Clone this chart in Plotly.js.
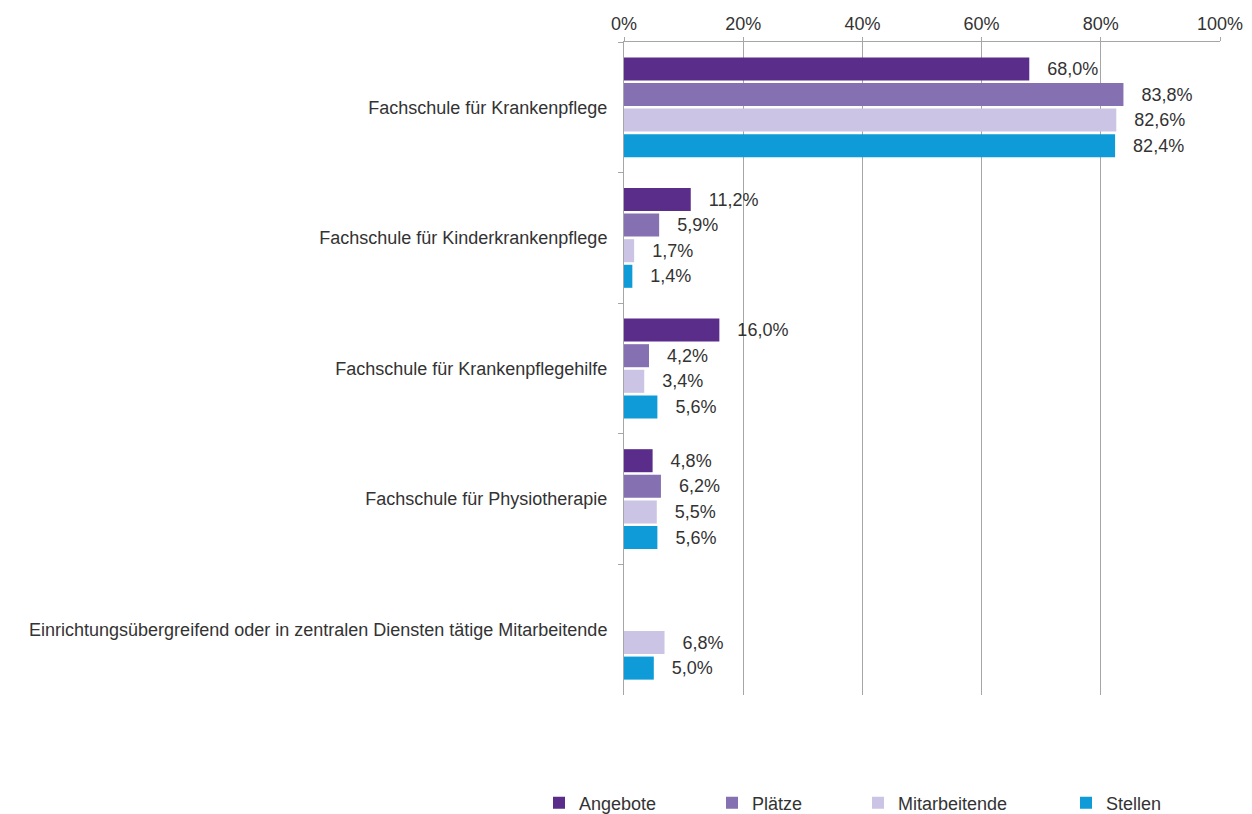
<!DOCTYPE html>
<html>
<head>
<meta charset="utf-8">
<script src="https://cdn.plot.ly/plotly-3.0.1.min.js"></script>
<style>html,body{margin:0;padding:0;background:#fff;}#chart{width:1252px;height:814px;}</style>
</head>
<body>
<div id="chart"></div>
<script>
const categories = [
  "Fachschule für Krankenpflege",
  "Fachschule für Kinderkrankenpflege",
  "Fachschule für Krankenpflegehilfe",
  "Fachschule für Physiotherapie",
  "Einrichtungsübergreifend oder in zentralen Diensten tätige Mitarbeitende"
];
const seriesNames = ["Angebote", "Plätze", "Mitarbeitende", "Stellen"];
const angebote = [68.0, 11.2, 16.0, 4.8, null];
const plaetze = [83.8, 5.9, 4.2, 6.2, null];
const mitarbeitende = [82.6, 1.7, 3.4, 5.5, 6.8];
const stellen = [82.4, 1.4, 5.6, 5.6, 5.0];
const tickValues = [0, 20, 40, 60, 80, 100];

const colors = ["#5b2d8a", "#8571b2", "#cbc4e4", "#0e9bd7"];
const values = [angebote, plaetze, mitarbeitende, stellen];
const legendIds = ["legend", "legend2", "legend3", "legend4"];
const legendTextX = [579, 752, 898, 1106];

const L = 624, R = 32, T = 42, B = 119;
const W = 1252, H = 814;
const FS = 18;

const traces = values.map((v, i) => ({
  type: "bar",
  orientation: "h",
  name: seriesNames[i],
  y: categories,
  x: v,
  marker: {color: colors[i]},
  texttemplate: "\u00a0\u00a0\u00a0%{x:.1f}%",
  textposition: "outside",
  textfont: {family: "Liberation Sans, Arial, sans-serif", size: FS, color: "#333333"},
  constraintext: "none",
  cliponaxis: false,
  hoverinfo: "x+name",
  legend: legendIds[i]
}));

const layout = {
  width: W, height: H,
  margin: {l: L, r: R, t: T, b: B, pad: 0, autoexpand: false},
  paper_bgcolor: "#ffffff",
  plot_bgcolor: "#ffffff",
  separators: ",.",
  barmode: "group",
  bargap: 0.216,
  bargroupgap: 0.1,
  font: {family: "Liberation Sans, Arial, sans-serif", size: FS, color: "#333333"},
  xaxis: {
    side: "top",
    range: [0, 100],
    tickvals: tickValues,
    ticktext: tickValues.map(t => t + "%"),
    showgrid: true,
    gridcolor: "#a6a6a6",
    gridwidth: 1,
    zeroline: false,
    showline: true,
    linecolor: "#a6a6a6",
    linewidth: 1,
    ticks: "outside",
    ticklen: 4,
    tickcolor: "#a6a6a6",
    tickfont: {size: FS, color: "#333333"},
    automargin: false,
    fixedrange: true
  },
  yaxis: {
    autorange: "reversed",
    showline: true,
    linecolor: "#a6a6a6",
    linewidth: 1,
    ticks: "outside",
    tickson: "boundaries",
    ticklen: 5,
    tickcolor: "#a6a6a6",
    ticklabelstandoff: 12,
    tickfont: {size: FS, color: "#333333"},
    showgrid: false,
    zeroline: false,
    automargin: false,
    fixedrange: true
  },
  showlegend: true
};

legendIds.forEach((id, i) => {
  layout[id] = {
    orientation: "h",
    xref: "container",
    yref: "container",
    x: (legendTextX[i] - 40) / W,
    xanchor: "left",
    y: 1 - 803 / H,
    yanchor: "middle",
    font: {size: FS, color: "#333333"},
    bgcolor: "rgba(0,0,0,0)",
    borderwidth: 0,
    itemclick: false,
    itemdoubleclick: false
  };
});

Plotly.newPlot("chart", traces, layout, {displayModeBar: false, staticPlot: true});
</script>
</body>
</html>
